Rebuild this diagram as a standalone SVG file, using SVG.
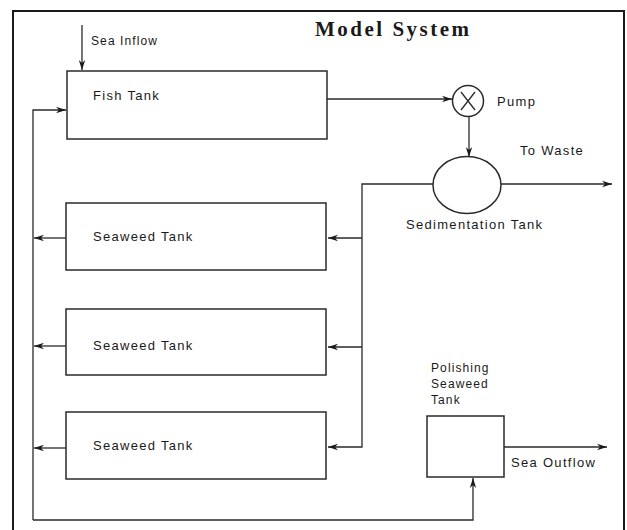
<svg xmlns="http://www.w3.org/2000/svg" width="627" height="530" viewBox="0 0 627 530">
  <style>
    .frame { fill: none; stroke: #1a1a1a; stroke-width: 2; }
    .box { fill: #fff; stroke: #2a2a2a; stroke-width: 1.5; }
    .wire { fill: none; stroke: #2a2a2a; stroke-width: 1.3; }
    .lbl { font-family: "Liberation Sans", Arial, sans-serif; font-size: 13px; letter-spacing: 1.3px; fill: #1a1a1a; }
    .sm { font-size: 12px; letter-spacing: 1.1px; }
    .title { font-family: "Liberation Serif", "Times New Roman", serif; font-size: 21px; font-weight: bold; letter-spacing: 2.5px; fill: #1a1a1a; }
  </style>
  <defs>
    <marker id="arr" markerUnits="userSpaceOnUse" markerWidth="11" markerHeight="8" refX="10" refY="4" orient="auto">
      <path d="M0,0.8 L10,4 L0,7.2 L3,4 Z" fill="#1a1a1a"/>
    </marker>
  </defs>

  <rect width="627" height="530" fill="#fff"/>

  <!-- outer frame -->
  <path class="frame" d="M13,530 V11 H624 V530"/>
  <text class="title" x="315" y="36">Model System</text>

  <!-- connectors -->
  <g id="connectors">
    <path class="wire" d="M82,25 V70" marker-end="url(#arr)"/>
    <path class="wire" d="M33,520 V110 H66" marker-end="url(#arr)"/>
    <path class="wire" d="M33,520 H473 V478" marker-end="url(#arr)"/>
    <path class="wire" d="M66,238 H34" marker-end="url(#arr)"/>
    <path class="wire" d="M66,346 H34" marker-end="url(#arr)"/>
    <path class="wire" d="M66,448 H34" marker-end="url(#arr)"/>
    <path class="wire" d="M327,99 H452" marker-end="url(#arr)"/>
    <path class="wire" d="M469,117 V157" marker-end="url(#arr)"/>
    <path class="wire" d="M501,184 H612" marker-end="url(#arr)"/>
    <path class="wire" d="M433,184 H362 V447 H328" marker-end="url(#arr)"/>
    <path class="wire" d="M362,238 H328" marker-end="url(#arr)"/>
    <path class="wire" d="M362,347 H328" marker-end="url(#arr)"/>
    <path class="wire" d="M504,447 H607" marker-end="url(#arr)"/>
  </g>

  <g id="sea-inflow">
    <text class="lbl sm" x="91" y="45">Sea Inflow</text>
  </g>

  <g id="fish-tank">
    <rect class="box" x="67" y="71" width="260" height="68"/>
    <text class="lbl" x="93" y="100">Fish Tank</text>
  </g>

  <g id="pump">
    <circle class="box" cx="468" cy="101" r="15.5"/>
    <path class="wire" d="M461,92 L475,110 M475,92 L461,110" stroke-width="1.6"/>
    <text class="lbl" x="497" y="106">Pump</text>
  </g>

  <g id="sedimentation-tank">
    <ellipse class="box" cx="467" cy="185" rx="34" ry="28.5"/>
    <text class="lbl" x="406" y="229" letter-spacing="1px">Sedimentation Tank</text>
  </g>

  <g id="to-waste">
    <text class="lbl" x="520" y="155">To Waste</text>
  </g>

  <g id="seaweed-tank-1">
    <rect class="box" x="66" y="203" width="260" height="67"/>
    <text class="lbl" x="93" y="241" letter-spacing="1.5px">Seaweed Tank</text>
  </g>

  <g id="seaweed-tank-2">
    <rect class="box" x="66" y="309" width="260" height="66"/>
    <text class="lbl" x="93" y="350" letter-spacing="1.5px">Seaweed Tank</text>
  </g>

  <g id="seaweed-tank-3">
    <rect class="box" x="66" y="412" width="260" height="67"/>
    <text class="lbl" x="93" y="450" letter-spacing="1.5px">Seaweed Tank</text>
  </g>

  <g id="polishing-tank">
    <text class="lbl sm" x="431" y="372">Polishing</text>
    <text class="lbl sm" x="431" y="388">Seaweed</text>
    <text class="lbl sm" x="431" y="404">Tank</text>
    <rect class="box" x="427" y="416" width="77" height="61"/>
  </g>

  <g id="sea-outflow">
    <text class="lbl" x="511" y="467" letter-spacing="0.7px">Sea Outflow</text>
  </g>
</svg>
